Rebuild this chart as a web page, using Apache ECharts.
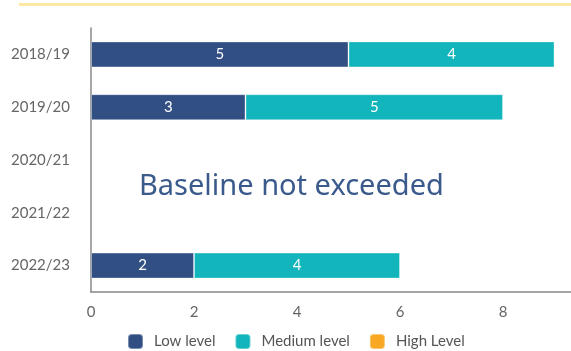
<!DOCTYPE html>
<html>
<head>
<meta charset="utf-8">
<script src="https://cdn.jsdelivr.net/npm/echarts@6/dist/echarts.min.js"></script>
<style>
  html, body { margin: 0; padding: 0; background: #fff; }
  #chart { width: 571px; height: 351px; }
</style>
</head>
<body>
<div id="chart"></div>
<script>
// Seasons, top to bottom
const seasons = ['2018/19', '2019/20', '2020/21', '2021/22', '2022/23'];
// Counts per level for each season (null = nothing recorded)
const lowLevel = [5, 3, null, null, 2];
const mediumLevel = [4, 5, null, null, 4];
const highLevel = [null, null, null, null, null];
const xTicks = [0, 2, 4, 6, 8];

const colors = { low: '#324f84', medium: '#12b5bb', high: '#f8a823' };
const font = 'Lato, "Noto Sans", sans-serif';

const chart = echarts.init(document.getElementById('chart'), null, { renderer: 'canvas' });

function barSeries(name, data, color) {
  return {
    name: name,
    type: 'bar',
    stack: 'total',
    data: data,
    barWidth: 26,
    itemStyle: { color: color, borderColor: 'rgba(255,255,255,0.35)', borderWidth: 1 },
    label: {
      show: true,
      position: 'inside',
      color: '#fff',
      fontFamily: font,
      fontSize: 15
    }
  };
}

chart.setOption({
  animation: false,
  textStyle: { fontFamily: font },
  graphic: [
    {
      type: 'rect',
      shape: { x: 19, y: 3, width: 552, height: 3 },
      style: { fill: '#fde9a2' }
    },
    {
      type: 'text',
      left: 139,
      top: 172,
      style: {
        text: 'Baseline not exceeded',
        fill: '#3a5a8c',
        font: '29px "Noto Sans", sans-serif'
      }
    }
  ],
  legend: {
    left: 127,
    top: 333,
    padding: 0,
    itemWidth: 15,
    itemHeight: 15,
    itemGap: 19,
    icon: 'roundRect',
    textStyle: { color: '#555', fontSize: 15, fontFamily: font, padding: [0, 0, 0, 6] },
    data: ['Low level', 'Medium level', 'High Level']
  },
  grid: { left: 91, right: 0, top: 28, bottom: 59, containLabel: false },
  xAxis: {
    type: 'value',
    min: 0,
    max: 9.32,
    interval: 2,
    axisLine: { show: true, lineStyle: { color: '#888', width: 1.5 } },
    axisTick: { show: false },
    splitLine: { show: false },
    axisLabel: {
      color: '#666',
      fontSize: 15,
      margin: 13,
      showMaxLabel: false,
      formatter: v => (xTicks.includes(v) ? String(v) : '')
    }
  },
  yAxis: {
    type: 'category',
    inverse: true,
    data: seasons,
    axisLine: { show: true, lineStyle: { color: '#888', width: 1.5 } },
    axisTick: { show: false },
    axisLabel: { color: '#666', fontSize: 15, margin: 21 }
  },
  series: [
    barSeries('Low level', lowLevel, colors.low),
    barSeries('Medium level', mediumLevel, colors.medium),
    barSeries('High Level', highLevel, colors.high)
  ]
});
</script>
</body>
</html>
